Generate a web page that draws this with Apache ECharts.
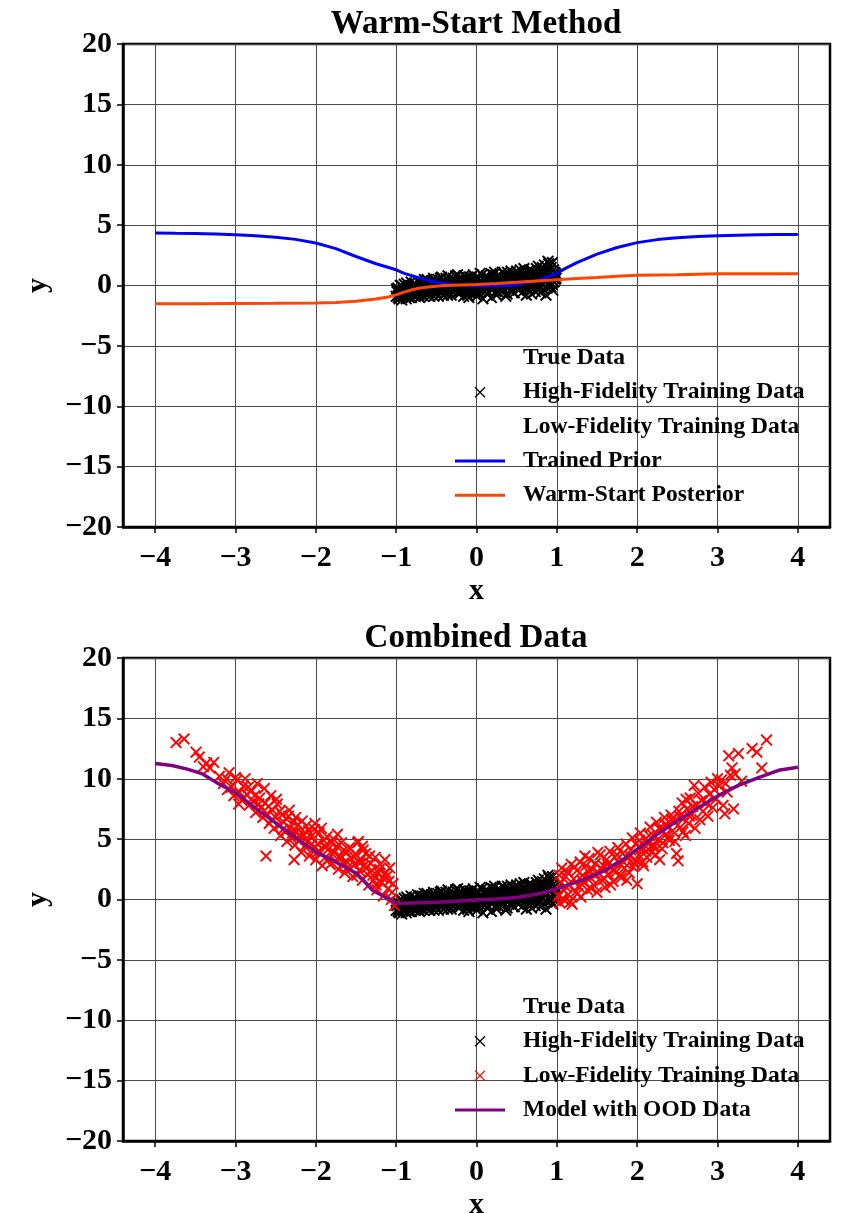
<!DOCTYPE html>
<html>
<head>
<meta charset="utf-8">
<script src="https://cdn.jsdelivr.net/npm/echarts@6/dist/echarts.min.js"></script>
<style>
  html, body { margin: 0; padding: 0; background: #ffffff; }
  #chart { width: 843px; height: 1213px; }
</style>
</head>
<body>
<div id="chart"></div>
<script>
// ---- data ----
const xTicks = [-4, -3, -2, -1, 0, 1, 2, 3, 4];

// high-fidelity samples on [-1, 1]
const hfPoints = [
  [-1.00,-0.9],[-0.98,-0.2],[-0.96,-1.1],[-0.94,-0.4],[-0.92,-0.7],[-0.90,0.1],[-0.88,-0.8],[-0.86,-0.3],
  [-0.84,-1.0],[-0.82,-0.5],[-0.80,0.0],[-0.78,-0.6],[-0.76,-0.9],[-0.74,-0.1],[-0.72,-0.5],[-0.70,0.3],
  [-0.68,-0.8],[-0.66,-0.3],[-0.64,0.2],[-0.62,-0.6],[-0.60,-0.1],[-0.58,-0.9],[-0.56,0.4],[-0.54,-0.4],
  [-0.52,0.1],[-0.50,-0.7],[-0.48,0.5],[-0.46,-0.2],[-0.44,-0.6],[-0.42,0.3],[-0.40,-0.3],[-0.38,0.6],
  [-0.36,-0.8],[-0.34,0.1],[-0.32,-0.4],[-0.30,0.4],[-0.28,-0.1],[-0.26,0.8],[-0.24,-0.6],[-0.22,0.2],
  [-0.20,-0.3],[-0.18,0.6],[-0.16,-0.9],[-0.14,0.0],[-0.12,0.5],[-0.10,-0.5],[-0.08,0.3],[-0.06,-0.2],
  [-0.04,0.9],[-0.02,-0.7],[0.00,0.1],[0.02,0.6],[0.04,-0.4],[0.06,0.3],[0.08,-1.1],[0.10,0.7],
  [0.12,-0.1],[0.14,0.4],[0.16,-0.6],[0.18,1.0],[0.20,0.0],[0.22,0.5],[0.24,-0.5],[0.26,0.8],
  [0.28,0.2],[0.30,-0.3],[0.32,1.1],[0.34,0.1],[0.36,0.6],[0.38,-0.7],[0.40,0.4],[0.42,0.9],
  [0.44,-0.2],[0.46,0.7],[0.48,0.2],[0.50,1.2],[0.52,-0.4],[0.54,0.5],[0.56,0.0],[0.58,1.0],
  [0.60,0.3],[0.62,-0.8],[0.64,0.8],[0.66,0.2],[0.68,1.3],[0.70,-0.3],[0.72,0.6],[0.74,1.1],
  [0.76,0.0],[0.78,0.9],[0.80,-0.6],[0.82,1.5],[0.84,0.4],[0.86,1.0],[0.88,-0.2],[0.90,1.8],
  [0.92,0.7],[0.94,0.1],[0.96,1.3],[0.98,0.5],[1.00,0.9],
  [-0.99,-0.5],[-0.97,-0.8],[-0.95,0.0],[-0.93,-1.2],[-0.91,-0.3],[-0.89,-0.6],[-0.87,0.2],[-0.85,-0.7],
  [-0.83,-0.2],[-0.81,-1.0],[-0.79,-0.4],[-0.77,0.2],[-0.75,-0.7],[-0.73,-0.3],[-0.71,-1.0],[-0.69,0.0],
  [-0.67,-0.5],[-0.65,0.5],[-0.63,-0.2],[-0.61,-0.8],[-0.59,0.2],[-0.57,-0.4],[-0.55,0.0],[-0.53,-0.9],
  [-0.51,0.3],[-0.49,-0.2],[-0.47,-0.5],[-0.45,0.6],[-0.43,-0.1],[-0.41,-0.8],[-0.39,0.2],[-0.37,-0.3],
  [-0.35,0.5],[-0.33,-0.6],[-0.31,0.0],[-0.29,0.6],[-0.27,-0.4],[-0.25,0.3],[-0.23,-0.1],[-0.21,0.7],
  [-0.19,-0.5],[-0.17,0.2],[-0.15,-0.2],[-0.13,0.7],[-0.11,-0.8],[-0.09,0.1],[-0.07,0.5],[-0.05,-0.4],
  [-0.03,0.3],[-0.01,-0.2],[0.01,0.7],[0.03,-0.6],[0.05,0.2],[0.07,0.9],[0.09,-0.1],[0.11,0.4],
  [0.13,-0.7],[0.15,0.6],[0.17,0.1],[0.19,-0.3],[0.21,0.9],[0.23,0.3],[0.25,-0.8],[0.27,0.5],
  [0.29,0.0],[0.31,0.7],[0.33,-0.4],[0.35,1.0],[0.37,0.2],[0.39,0.6],[0.41,-0.1],[0.43,1.2],
  [0.45,0.4],[0.47,-0.6],[0.49,0.8],[0.51,0.2],[0.53,1.0],[0.55,-0.1],[0.57,0.6],[0.59,1.4],
  [0.61,0.1],[0.63,0.7],[0.65,-0.4],[0.67,0.5],[0.69,1.1],[0.71,0.2],[0.73,-0.5],[0.75,0.8],
  [0.77,1.6],[0.79,0.3],[0.81,0.9],[0.83,-0.3],[0.85,1.2],[0.87,0.6],[0.89,2.0],[0.91,0.2],
  [0.93,1.5],[0.95,-0.4],[0.97,1.1],[0.99,0.6],
  [-0.995,-0.3],[-0.975,-1.0],[-0.955,-0.6],[-0.935,0.0],[-0.915,-0.9],[-0.895,-0.4],[-0.875,-1.1],[-0.855,-0.1],
  [-0.835,-0.6],[-0.815,0.3],[-0.795,-0.8],[-0.775,-0.2],[-0.755,-0.5],[-0.735,0.4],[-0.715,-0.6],[-0.695,-0.2],
  [-0.675,0.3],[-0.655,-0.9],[-0.635,-0.4],[-0.615,0.5],[-0.595,-0.6],[-0.575,0.1],[-0.555,-0.3],[-0.535,0.6],
  [-0.515,-0.5],[-0.495,0.0],[-0.475,-0.9],[-0.455,0.2],[-0.435,0.7],[-0.415,-0.3],[-0.395,0.0],[-0.375,-0.6],
  [-0.355,0.8],[-0.335,0.3],[-0.315,-0.8],[-0.295,-0.2],[-0.275,0.5],[-0.255,-0.3],[-0.235,0.9],[-0.215,-0.7],
  [-0.195,0.2],[-0.175,-0.1],[-0.155,0.8],[-0.135,-0.4],[-0.115,0.3],[-0.095,-1.0],[-0.075,0.7],[-0.055,0.0],
  [-0.035,-0.5],[-0.015,0.5],[0.005,-0.9],[0.025,0.3],[0.045,1.0],[0.065,-0.3],[0.085,0.5],[0.105,-0.5],
  [0.125,0.8],[0.145,0.0],[0.165,0.5],[0.185,-1.0],[0.205,0.3],[0.225,1.1],[0.245,0.1],[0.265,-0.5],
  [0.285,0.8],[0.305,0.3],[0.325,-0.2],[0.345,0.6],[0.365,-0.9],[0.385,1.1],[0.405,0.0],[0.425,0.5],
  [0.445,-0.5],[0.465,1.0],[0.485,0.3],[0.505,-0.2],[0.525,0.7],[0.545,1.3],[0.565,-0.6],[0.585,0.4],
  [0.605,0.9],[0.625,-0.1],[0.645,1.2],[0.665,0.4],[0.685,-0.7],[0.705,0.9],[0.725,0.1],[0.745,1.4],
  [0.765,-0.4],[0.785,0.6],[0.805,1.1],[0.825,0.2],[0.845,1.7],[0.865,-0.8],[0.885,0.8],[0.905,1.2],
  [0.925,-0.1],[0.945,1.9],[0.965,0.3],[0.985,1.0]
];

// low-fidelity samples, negative side
const lfLeft = [
  [-3.74,13.0],[-3.64,13.3],[-3.49,12.2],[-3.45,11.8],[-3.36,11.3],[-3.27,11.35],[-3.32,10.9],[-3.40,11.0],
  [-3.20,10.2],[-3.08,10.5],[-3.11,10.0],[-3.15,9.6],[-3.05,9.3],[-3.02,8.6],[-2.98,9.9],[-2.95,8.9],
  [-2.92,8.2],[-2.90,9.4],[-2.86,8.7],[-2.83,7.8],[-2.80,9.0],[-2.78,8.1],[-2.75,7.2],[-2.73,9.6],
  [-2.70,8.4],[-2.68,7.6],[-2.66,6.8],[-2.63,8.0],[-2.61,7.1],[-2.58,6.3],[-2.56,8.6],[-2.54,7.4],
  [-2.52,5.9],[-2.50,6.8],[-2.48,7.9],[-2.46,6.1],[-2.44,5.3],[-2.42,7.0],[-2.40,6.4],[-2.38,5.6],
  [-2.36,4.8],[-2.34,6.9],[-2.32,5.9],[-2.30,5.1],[-2.28,6.4],[-2.26,4.5],[-2.24,5.6],[-2.22,6.2],
  [-2.20,4.9],[-2.18,3.9],[-2.16,5.4],[-2.14,4.4],[-2.12,6.1],[-2.10,4.8],[-2.08,3.6],[-2.06,5.2],
  [-2.04,4.1],[-2.02,5.8],[-2.00,3.3],[-1.98,4.6],[-1.96,5.5],[-1.94,3.9],[-1.92,2.8],[-1.90,4.9],
  [-1.88,3.5],[-1.86,5.2],[-1.84,4.2],[-1.82,2.9],[-1.80,3.8],[-1.78,5.0],[-1.76,3.2],[-1.74,4.4],
  [-1.72,2.5],[-1.70,3.6],[-1.68,4.7],[-1.66,3.0],[-1.64,2.2],[-1.62,3.9],[-1.60,2.7],[-1.58,4.3],
  [-1.56,3.4],[-1.54,1.9],[-1.52,2.9],[-1.50,3.7],[-1.48,4.7],[-1.46,2.4],[-1.44,3.3],[-1.42,1.6],
  [-1.40,2.8],[-1.38,3.8],[-1.36,2.1],[-1.34,1.2],[-1.32,3.0],[-1.30,2.4],[-1.28,1.6],[-1.26,3.5],
  [-1.24,0.8],[-1.22,2.2],[-1.20,2.9],[-1.18,1.4],[-1.16,0.3],[-1.14,3.3],[-1.12,1.9],[-1.10,0.9],
  [-1.08,2.6],[-1.06,0.0],[-1.04,1.3],[-1.02,-0.5],
  [-3.10,9.1],[-3.00,10.1],[-2.96,7.9],[-2.88,10.0],[-2.84,9.3],[-2.76,8.6],[-2.71,7.9],[-2.64,9.2],
  [-2.59,7.7],[-2.55,6.6],[-2.49,8.3],[-2.45,7.3],[-2.41,5.8],[-2.37,6.7],[-2.33,7.4],[-2.29,5.5],
  [-2.25,6.8],[-2.21,5.3],[-2.17,6.5],[-2.13,5.0],[-2.09,5.7],[-2.05,4.6],[-2.01,6.3],[-1.97,4.0],
  [-1.93,5.9],[-1.89,4.4],[-1.85,3.3],[-1.81,4.7],[-1.77,3.9],[-1.73,5.4],[-1.69,3.4],[-1.65,4.1],
  [-1.61,3.1],[-1.57,2.5],[-1.53,3.6],[-1.49,2.0],[-1.45,3.0],[-1.41,4.1],[-1.37,2.6],[-1.33,3.6],
  [-1.29,2.0],[-1.25,1.2],[-1.21,2.5],[-1.17,1.8],[-1.13,2.2],[-1.09,1.5],[-1.05,0.6],[-2.62,3.6],
  [-2.27,3.3],[-1.47,4.8],[-1.42,4.4]
];

// low-fidelity samples, positive side
const lfRight = [
  [1.02,0.3],[1.04,-0.3],[1.05,1.4],[1.06,2.6],[1.08,0.8],[1.10,-0.1],[1.11,1.9],[1.13,2.3],
  [1.14,0.4],[1.16,1.2],[1.18,2.9],[1.19,-0.4],[1.21,1.7],[1.23,0.6],[1.25,2.4],[1.27,1.1],
  [1.29,3.1],[1.30,0.2],[1.32,2.0],[1.34,1.4],[1.36,2.8],[1.38,0.8],[1.40,3.4],[1.42,1.8],
  [1.44,2.5],[1.46,1.2],[1.48,3.0],[1.50,0.6],[1.52,2.2],[1.54,3.7],[1.56,1.6],[1.58,2.8],
  [1.60,1.0],[1.62,3.3],[1.64,2.1],[1.66,4.0],[1.68,2.7],[1.70,1.5],[1.72,3.5],[1.74,2.3],
  [1.76,4.3],[1.78,3.0],[1.80,1.8],[1.82,3.8],[1.84,2.6],[1.86,4.6],[1.88,3.4],[1.90,2.2],
  [1.92,4.1],[1.94,5.1],[1.96,3.0],[1.98,4.6],[2.00,1.3],[2.02,3.7],[2.04,5.5],[2.06,4.2],
  [2.08,2.8],[2.10,5.0],[2.12,3.5],[2.14,4.6],[2.16,6.0],[2.18,3.9],[2.20,5.3],[2.22,4.4],
  [2.24,6.4],[2.26,5.0],[2.28,3.3],[2.30,5.8],[2.32,4.7],[2.34,6.8],[2.36,5.4],[2.38,6.1],
  [2.40,4.9],[2.42,7.0],[2.44,5.7],[2.46,6.5],[2.49,3.8],[2.51,3.2],[2.52,7.3],[2.54,6.0],
  [2.56,8.0],[2.58,6.7],[2.60,5.3],[2.62,7.5],[2.64,6.3],[2.66,8.4],[2.68,7.0],[2.71,9.45],
  [2.72,5.9],[2.74,7.8],[2.76,8.8],[2.78,6.6],[2.80,8.2],[2.82,7.3],[2.84,9.3],[2.86,8.0],
  [2.88,6.9],[2.90,8.7],[2.92,9.7],[2.94,7.6],[2.96,9.1],[2.98,8.3],[3.00,10.0],[3.02,9.4],
  [3.05,9.9],[3.07,7.8],[3.09,7.1],[3.12,8.9],[3.14,11.9],[3.18,10.9],[3.20,7.5],[3.22,10.4],
  [3.26,12.1],[3.30,9.8],[3.43,12.5],[3.49,12.2],[3.55,10.9],[3.61,13.2],[3.10,9.6],[3.16,10.3],
  [1.03,2.0],[1.07,0.1],[1.12,1.0],[1.17,-0.2],[1.22,2.7],[1.26,0.5],[1.31,1.6],[1.35,3.6],
  [1.39,2.3],[1.43,0.9],[1.47,2.0],[1.51,3.9],[1.55,2.6],[1.59,1.7],[1.63,2.9],[1.67,1.2],
  [1.71,2.4],[1.75,3.7],[1.79,2.0],[1.83,3.1],[1.87,1.6],[1.91,3.6],[1.95,2.7],[1.99,3.2],
  [2.03,4.9],[2.07,3.1],[2.11,4.0],[2.15,5.3],[2.19,4.4],[2.23,3.7],[2.27,5.9],[2.31,4.2],
  [2.35,6.2],[2.39,5.1],[2.43,6.6],[2.47,4.8],[2.53,6.9],[2.57,5.6],[2.61,8.3],[2.65,6.9],
  [2.69,7.7]
];

// model curves
const priorCurve = [
  [-4.0,4.35],[-3.75,4.32],[-3.5,4.3],[-3.25,4.27],[-3.0,4.2],[-2.75,4.12],[-2.5,4.0],[-2.25,3.82],
  [-2.0,3.52],[-1.75,3.05],[-1.5,2.4],[-1.25,1.8],[-1.0,1.3],[-0.9,1.0],[-0.75,0.7],[-0.6,0.42],
  [-0.5,0.25],[-0.25,0.05],[0.0,-0.05],[0.25,-0.05],[0.5,0.05],[0.6,0.2],[0.75,0.4],[0.9,0.75],
  [1.0,1.0],[1.1,1.4],[1.25,1.9],[1.5,2.6],[1.75,3.15],[2.0,3.55],[2.25,3.8],[2.5,3.95],
  [2.75,4.05],[3.0,4.12],[3.25,4.17],[3.5,4.2],[3.75,4.23],[4.0,4.22]
];
const posteriorCurve = [
  [-4.0,-1.52],[-3.5,-1.52],[-3.0,-1.5],[-2.5,-1.48],[-2.0,-1.45],[-1.75,-1.4],[-1.5,-1.3],[-1.25,-1.12],
  [-1.1,-0.95],[-1.0,-0.78],[-0.9,-0.55],[-0.8,-0.35],[-0.7,-0.2],[-0.6,-0.12],[-0.4,0.0],[-0.2,0.05],
  [0.0,0.08],[0.25,0.17],[0.5,0.27],[0.75,0.38],[1.0,0.48],[1.25,0.58],[1.5,0.66],[1.75,0.76],
  [2.0,0.85],[2.5,0.9],[3.0,0.97],[3.5,0.98],[4.0,0.97]
];
const oodCurve = [
  [-4.0,11.27],[-3.79,11.1],[-3.6,10.8],[-3.41,10.4],[-3.24,9.7],[-2.99,8.8],[-2.74,7.5],[-2.49,6.3],
  [-2.24,5.05],[-1.99,3.9],[-1.74,3.07],[-1.49,2.15],[-1.29,0.75],[-1.11,0.1],[-0.99,-0.33],[-0.8,-0.28],
  [-0.5,-0.22],[-0.25,-0.15],[0.0,-0.05],[0.25,0.05],[0.5,0.17],[0.8,0.5],[1.0,0.9],[1.3,1.57],
  [1.55,2.24],[1.8,3.2],[2.01,4.2],[2.26,5.45],[2.51,6.55],[2.76,7.6],[3.01,8.6],[3.26,9.45],
  [3.51,10.1],[3.76,10.7],[4.0,10.95]
];

const topTitle = 'Warm-Start Method';
const bottomTitle = 'Combined Data';
const topLegendNames = ['True Data', 'High-Fidelity Training Data', 'Low-Fidelity Training Data', 'Trained Prior', 'Warm-Start Posterior'];
const bottomLegendNames = ['True Data', 'High-Fidelity Training Data', 'Low-Fidelity Training Data', 'Model with OOD Data'];

// ---- styling ----
const FONT = "'Liberation Serif', 'Times New Roman', serif";
const BLACK = '#000000';
const BLUE = '#0000ff';
const ORANGE = '#ff4500';
const RED = '#ff0000';
const PURPLE = '#800080';

// filled "x" marker made of two thin diagonal bars
const crossSymbol = 'path://M0.64,-0.64L10.64,9.36L9.36,10.64L-0.64,0.64ZM9.36,-0.64L10.64,0.64L0.64,10.64L-0.64,9.36Z';
// legend glyphs inside a 63x14 box (corner anchors fix the box size)
const legendCross = 'path://M0,0L0,0M63,14L63,14M20.46,1.54L30.46,11.54L29.54,12.46L19.54,2.46ZM29.54,1.54L30.46,2.46L20.46,12.46L19.54,11.54Z';
const legendBar = 'path://M0,0L0,0M63,14L63,14M0,5.5L50,5.5L50,8.5L0,8.5Z';

const minusFmt = v => (v < 0 ? '\u2212' + Math.abs(v) : String(v));

const GRID_LEFT = 123, GRID_WIDTH = 707, GRID_HEIGHT = 483;
const GRID_TOPS = [44, 658];
const GRID_LINE = '#4a4a4a';

function makeXAxis(idx) {
  return {
    type: 'value', gridIndex: idx, min: -4.4, max: 4.4,
    name: 'x', nameLocation: 'middle', nameGap: 49,
    nameTextStyle: { fontFamily: FONT, fontWeight: 'bold', fontSize: 30, color: BLACK },
    axisLine: { show: true, onZero: false, lineStyle: { color: BLACK, width: 2.5 } },
    axisTick: { show: true, inside: false, length: 6, customValues: xTicks, lineStyle: { color: BLACK, width: 1.5 } },
    axisLabel: { customValues: xTicks, formatter: minusFmt, margin: 16, fontFamily: FONT, fontWeight: 'bold', fontSize: 30, color: BLACK },
    splitLine: { show: true, lineStyle: { color: GRID_LINE, width: 1 } }
  };
}
function makeYAxis(idx) {
  return {
    type: 'value', gridIndex: idx, min: -20, max: 20, interval: 5,
    name: 'y', nameLocation: 'middle', nameGap: 70, nameRotate: 90,
    nameTextStyle: { fontFamily: FONT, fontWeight: 'bold', fontSize: 30, color: BLACK },
    axisLine: { show: true, onZero: false, lineStyle: { color: BLACK, width: 2.5 } },
    axisTick: { show: true, inside: false, length: 6, lineStyle: { color: BLACK, width: 1.5 } },
    axisLabel: { formatter: minusFmt, margin: 11, fontFamily: FONT, fontWeight: 'bold', fontSize: 30, color: BLACK },
    splitLine: { show: true, lineStyle: { color: GRID_LINE, width: 1 } }
  };
}

const legendIcons = {
  'True Data': { icon: 'none' },
  'High-Fidelity Training Data': { icon: legendCross, itemStyle: { color: BLACK, borderWidth: 0 } },
  'Trained Prior': { icon: legendBar, itemStyle: { color: BLUE, borderWidth: 0 } },
  'Warm-Start Posterior': { icon: legendBar, itemStyle: { color: ORANGE, borderWidth: 0 } },
  'Model with OOD Data': { icon: legendBar, itemStyle: { color: PURPLE, borderWidth: 0 } }
};
function legendItems(names, lfIcon) {
  return names.map(n => {
    if (n === 'Low-Fidelity Training Data') return Object.assign({ name: n }, lfIcon);
    return Object.assign({ name: n }, legendIcons[n]);
  });
}
function makeLegend(top, data) {
  return {
    orient: 'vertical', left: 455, top: top, padding: 0,
    itemWidth: 63, itemHeight: 14, itemGap: 10.3, selectedMode: false,
    textStyle: { fontFamily: FONT, fontWeight: 'bold', fontSize: 23.5, color: BLACK, lineHeight: 24 },
    data: data
  };
}

function scatterSeries(name, idx, data, color, z) {
  return {
    type: 'scatter', name: name, xAxisIndex: idx, yAxisIndex: idx,
    data: data, symbol: crossSymbol, symbolSize: 12, z: z,
    itemStyle: { color: color, opacity: 1 }, emphasis: { disabled: true }
  };
}
function lineSeries(name, idx, data, color, width, z) {
  return {
    type: 'line', name: name, xAxisIndex: idx, yAxisIndex: idx,
    data: data, showSymbol: false, symbol: 'none', color: color, z: z,
    lineStyle: { color: color, width: width }, emphasis: { disabled: true }
  };
}

const chart = echarts.init(document.getElementById('chart'), null, { renderer: 'canvas' });
chart.setOption({
  animation: false,
  backgroundColor: '#ffffff',
  title: [
    { text: topTitle, left: 476, top: 8, textAlign: 'center', padding: 0,
      textStyle: { fontFamily: FONT, fontWeight: 'bold', fontSize: 33, color: BLACK } },
    { text: bottomTitle, left: 476, top: 622, textAlign: 'center', padding: 0,
      textStyle: { fontFamily: FONT, fontWeight: 'bold', fontSize: 33, color: BLACK } }
  ],
  grid: GRID_TOPS.map(t => ({
    left: GRID_LEFT, top: t, width: GRID_WIDTH, height: GRID_HEIGHT,
    outerBoundsMode: 'none', containLabel: false,
    show: true, borderColor: BLACK, borderWidth: 2.5, backgroundColor: 'transparent'
  })),
  xAxis: [makeXAxis(0), makeXAxis(1)],
  yAxis: [makeYAxis(0), makeYAxis(1)],
  legend: [
    makeLegend(346, legendItems(topLegendNames, { icon: 'none' })),
    makeLegend(995, legendItems(bottomLegendNames, { icon: legendCross, itemStyle: { color: RED, borderWidth: 0 } }))
  ],
  series: [
    lineSeries('True Data', 0, [], BLACK, 2, 1),
    scatterSeries('High-Fidelity Training Data', 0, hfPoints, BLACK, 2),
    scatterSeries('Low-Fidelity Training Data', 0, [], RED, 3),
    lineSeries('Trained Prior', 0, priorCurve, BLUE, 3, 4),
    lineSeries('Warm-Start Posterior', 0, posteriorCurve, ORANGE, 3, 5),

    lineSeries('True Data', 1, [], BLACK, 2, 1),
    scatterSeries('High-Fidelity Training Data', 1, hfPoints, BLACK, 2),
    scatterSeries('Low-Fidelity Training Data', 1, lfLeft.concat(lfRight), RED, 3),
    lineSeries('Model with OOD Data', 1, oodCurve, PURPLE, 3.5, 4)
  ]
});
</script>
</body>
</html>
